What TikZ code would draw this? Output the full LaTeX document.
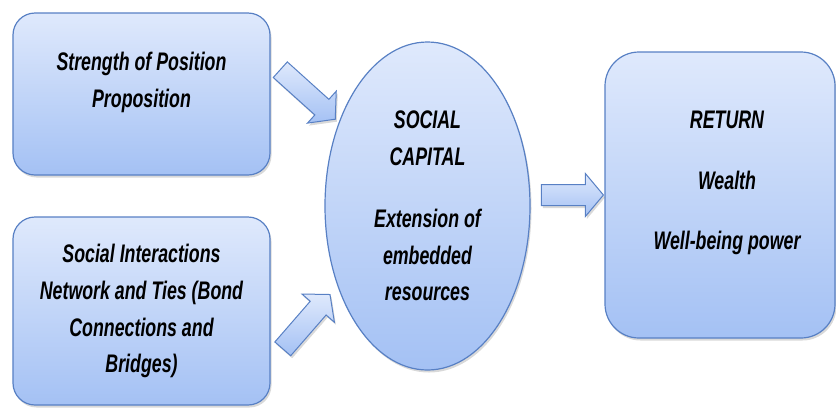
\documentclass[tikz,border=0pt]{standalone}
\usepackage{fontspec}
\setmainfont{Liberation Sans}[FakeStretch=0.7]
\usetikzlibrary{shapes.geometric,shapes.arrows,shadows}
\definecolor{boxtop}{RGB}{223,233,252}
\definecolor{boxbot}{RGB}{164,193,244}
\definecolor{boxline}{RGB}{88,128,196}

\begin{document}
\begin{tikzpicture}[x=1bp,y=-1bp,
    box/.style={draw=boxline, line width=1.2bp, top color=boxtop, bottom color=boxbot,
        drop shadow={shadow xshift=1.5bp, shadow yshift=-2.5bp, opacity=0.3}},
    txt/.style={align=center, font=\fontsize{25.5}{37}\selectfont\bfseries\itshape},
    blockarrow/.style={box, single arrow, minimum width=42bp, single arrow head extend=11bp,
        single arrow tip angle=100, inner xsep=0pt, inner ysep=10bp, line width=1bp}]
    \useasboundingbox (0,0) rectangle (836,407);

    % Sources of social capital
    \node[box, rounded corners=22bp, minimum width=257bp, minimum height=162bp] (strength) at (141.5,94) {};
    \node[txt] (strengthtxt) at ([yshift=12bp]strength.center) {Strength of Position\\Proposition};
    \node[box, txt, rounded corners=22bp, minimum width=257bp, minimum height=188bp] (interact) at (141.5,311)
        {Social Interactions\\Network and Ties (Bond\\Connections and\\Bridges)};

    % Social capital
    \node[box, txt, ellipse, inner sep=0pt, minimum width=205bp, minimum height=328bp] (capital) at (427.5,206)
        {SOCIAL\\CAPITAL\\[25bp]Extension of\\embedded\\resources};

    % Return
    \node[box, rounded corners=34bp, minimum width=230bp, minimum height=286bp] (return) at (720,195) {};
    \node[txt] (returntxt) at ([xshift=7bp,yshift=12bp]return.center) {RETURN\\[24bp]Wealth\\[24bp]Well-being power};

    % Block arrows
    \node[blockarrow, minimum height=74bp, rotate=-42] (arrtop) at (304.5,91.5) {};
    \node[blockarrow, minimum height=72bp, rotate=49] (arrbot) at (303.5,325) {};
    \node[blockarrow, minimum height=62bp] (arrright) at (568,195) {};
\end{tikzpicture}
\end{document}
